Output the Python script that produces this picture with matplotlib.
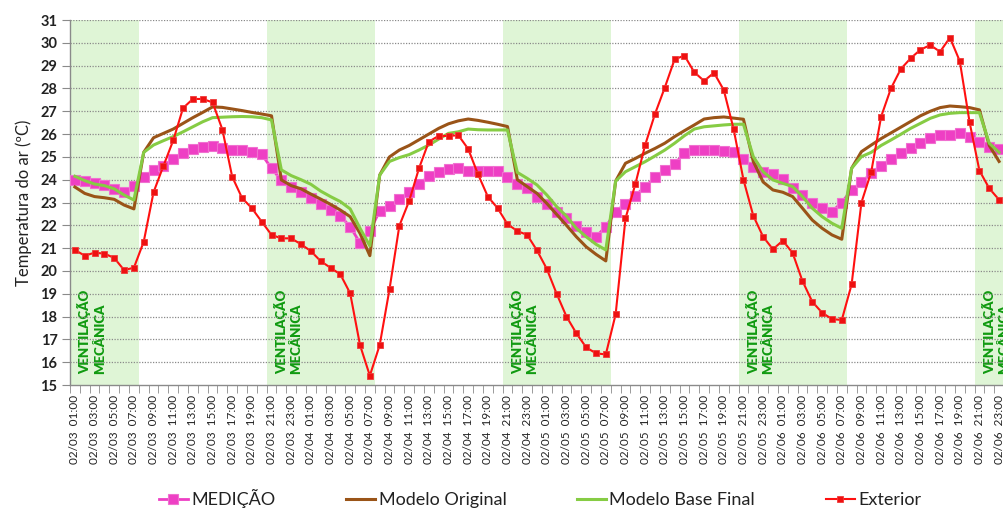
import numpy as np
import matplotlib
matplotlib.use("Agg")
import matplotlib.pyplot as plt
from matplotlib.ticker import FixedLocator

plt.rcParams["font.family"] = ["Lato", "DejaVu Sans"]

# ── Data: hourly values, 02/03 01:00 .. 02/06 23:00 ──────────────────────────
days = ["02/03", "02/04", "02/05", "02/06"]
hours = [f"{h:02d}:00" for h in range(24)]
timestamps = []
for d in days:
    for h in range(24):
        if d == "02/03" and h == 0:
            continue
        timestamps.append(f"{d}  {hours[h]}")

medicao = [
    24.0, 23.96, 23.87, 23.75, 23.6, 23.47, 23.72, 24.1, 24.43, 24.6,
    24.9, 25.18, 25.35, 25.43, 25.46, 25.4, 25.3, 25.29, 25.23, 25.11,
    24.5, 23.97, 23.7, 23.47, 23.21, 22.95, 22.67, 22.41, 21.94, 21.23,
    21.75, 22.63, 22.86, 23.15, 23.47, 23.8, 24.15, 24.35, 24.47, 24.5,
    24.38, 24.38, 24.4, 24.4, 24.1, 23.8, 23.62, 23.26, 22.92, 22.6,
    22.3, 21.98, 21.72, 21.5, 21.94, 22.6, 22.95, 23.3, 23.7, 24.1,
    24.43, 24.7, 25.16, 25.31, 25.31, 25.31, 25.27, 25.2, 24.9, 24.57,
    24.35, 24.24, 24.03, 23.62, 23.33, 22.96, 22.75, 22.6, 23.0, 23.56,
    23.88, 24.28, 24.62, 24.9, 25.16, 25.37, 25.62, 25.81, 25.96, 25.96,
    26.03, 25.89, 25.67, 25.45, 25.35,
]

modelo_original = [
    23.68, 23.4, 23.26, 23.21, 23.14, 22.89, 22.72, 25.2, 25.84, 26.03,
    26.22, 26.47, 26.72, 26.95, 27.19, 27.17, 27.1, 27.03, 26.95, 26.88,
    26.8, 23.99, 23.74, 23.6, 23.37, 23.15, 22.92, 22.67, 22.38, 21.65,
    20.67, 24.2, 25.0, 25.3, 25.5, 25.75, 26.0, 26.25, 26.45, 26.58,
    26.66, 26.6, 26.52, 26.43, 26.33, 24.0, 23.7, 23.4, 22.96, 22.48,
    22.0, 21.5, 21.06, 20.73, 20.44, 23.94, 24.72, 24.93, 25.16, 25.37,
    25.6, 25.89, 26.15, 26.4, 26.66, 26.72, 26.75, 26.7, 26.65, 24.8,
    23.9, 23.55, 23.45, 23.26, 22.75, 22.23, 21.87, 21.58, 21.39, 24.5,
    25.23, 25.52, 25.8, 26.05, 26.3, 26.55, 26.8, 27.0, 27.16, 27.23,
    27.2, 27.16, 27.06, 25.5, 24.8,
]

modelo_base_final = [
    24.15, 23.96, 23.81, 23.74, 23.6, 23.33, 23.11, 25.2, 25.52, 25.71,
    25.89, 26.1, 26.32, 26.54, 26.72, 26.74, 26.76, 26.77, 26.76, 26.72,
    26.62, 24.43, 24.18, 24.0, 23.8, 23.5, 23.26, 23.04, 22.72, 21.87,
    21.1, 24.2, 24.8, 24.97, 25.1, 25.3, 25.52, 25.78, 26.03, 26.1,
    26.22, 26.19, 26.18, 26.18, 26.18, 24.32, 24.06, 23.77, 23.33, 22.82,
    22.4, 21.87, 21.5, 21.17, 20.92, 23.94, 24.35, 24.57, 24.79, 25.04,
    25.3, 25.6, 25.93, 26.22, 26.32, 26.36, 26.4, 26.43, 26.43, 25.01,
    24.35, 23.99, 23.84, 23.7, 23.26, 22.75, 22.38, 22.09, 21.87, 24.5,
    25.01, 25.2, 25.5, 25.74, 25.99, 26.25, 26.47, 26.69, 26.84, 26.91,
    26.94, 26.94, 26.94, 25.6, 25.2,
]

exterior = [
    20.92, 20.67, 20.8, 20.76, 20.57, 20.04, 20.14, 21.28, 23.45, 24.6,
    25.72, 27.14, 27.54, 27.54, 27.39, 26.2, 24.13, 23.2, 22.75, 22.16,
    21.58, 21.43, 21.43, 21.17, 20.87, 20.43, 20.14, 19.85, 19.02, 16.75,
    15.41, 16.75, 19.2, 21.98, 23.07, 24.5, 25.67, 25.92, 25.92, 25.95,
    25.35, 24.24, 23.26, 22.75, 22.05, 21.75, 21.58, 20.9, 20.09, 19.0,
    18.0, 17.27, 16.65, 16.39, 16.34, 18.1, 22.3, 23.8, 25.52, 26.88,
    28.04, 29.28, 29.44, 28.71, 28.33, 28.69, 27.93, 26.22, 24.0, 22.42,
    21.5, 20.95, 21.33, 20.79, 19.56, 18.65, 18.17, 17.89, 17.85, 19.41,
    23.0, 24.35, 26.76, 28.0, 28.85, 29.32, 29.7, 29.9, 29.61, 30.23,
    29.2, 26.52, 24.4, 23.62, 23.12,
]

# mechanical ventilation periods (first / last hour index, inclusive)
vent_start = [0, 20, 44, 68, 92]
vent_end = [6, 30, 54, 78, 94]

# ── Plot ──────────────────────────────────────────────────────────────────────
fig = plt.figure(figsize=(10.04, 5.08), dpi=100)
ax = fig.add_axes([0.0697, 0.2421, 0.9303, 0.7185])

x = np.arange(len(timestamps))

for s, e in zip(vent_start, vent_end):
    ax.axvspan(s - 0.5, e + 0.5, color="#dff5d6", zorder=0, lw=0)
    ax.text(s + 1.7, 15.5, "VENTILAÇÃO\nMECÂNICA", rotation=90,
            ha="center", va="bottom", multialignment="left",
            fontsize=9.5, fontweight="heavy", color="#109a10",
            linespacing=1.25, zorder=1)

for yv in range(16, 32):
    ax.axhline(yv, color="#8a8a8a", lw=0.9, ls=(0, (1, 1.2)), zorder=1)

ax.plot(x, medicao, color="#ee3fc4", lw=2, marker="s", ms=6.5,
        mfc="#ee3fc4", mec="#f070d0", mew=0.8, zorder=3, label="MEDIÇÃO")
ax.plot(x, modelo_original, color="#9a5418", lw=2.2, zorder=4,
        label="Modelo Original")
ax.plot(x, modelo_base_final, color="#86cc44", lw=2.2, zorder=5,
        label="Modelo Base Final")
ax.plot(x, exterior, color="#ff1010", lw=1.5, marker="s", ms=5,
        mfc="#ee1111", mec="#f03a3a", mew=0.6, zorder=6, label="Exterior")

ax.set_xlim(-0.5, len(timestamps) - 0.5)
ax.set_ylim(15, 31)
ax.set_yticks(range(15, 32))
ax.tick_params(axis="y", labelsize=10.5, length=6, color="#8a8a8a",
               labelcolor="#222222", pad=3)
for lab in ax.get_yticklabels():
    lab.set_fontweight("bold")

ax.set_xticks(x[::2])
ax.set_xticklabels(timestamps[::2], rotation=90, fontsize=8.5,
                   color="#222222")
ax.tick_params(axis="x", which="major", length=0, pad=7)
ax.xaxis.set_minor_locator(FixedLocator(np.arange(-0.5, len(timestamps), 1)))
ax.tick_params(axis="x", which="minor", length=6, color="#8a8a8a")

ax.set_ylabel("Temperatura do ar (ºC)", fontsize=12, color="#222222",
              labelpad=6)

for sp in ["top", "right"]:
    ax.spines[sp].set_visible(False)
for sp in ["left", "bottom"]:
    ax.spines[sp].set_color("#8a8a8a")
    ax.spines[sp].set_linewidth(1.0)

fig.legend(loc="center", bbox_to_anchor=(0.538, 0.018), ncol=4,
           frameon=False, fontsize=13, handlelength=1.6,
           columnspacing=3.9, handletextpad=0.2, labelcolor="#222222")

fig.savefig("out.png", dpi=100)
